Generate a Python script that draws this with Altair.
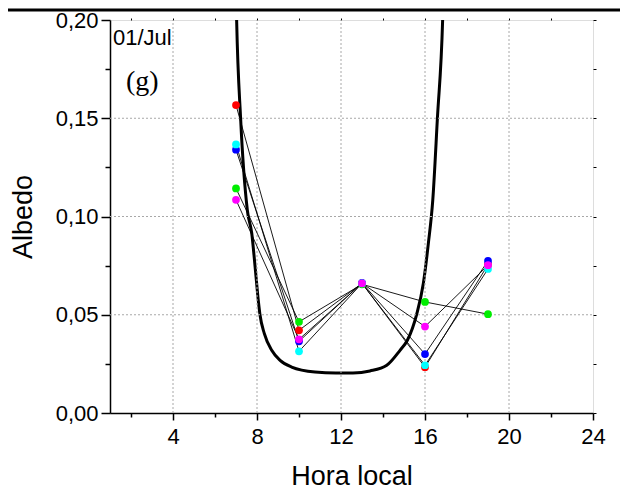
import altair as alt
import pandas as pd

# ---- data ----
hours = [7, 10, 13, 16, 19]
series_names = ["vermelho", "verde", "azul", "ciano", "magenta"]
series_colors = ["#ff0000", "#00ee00", "#0000ff", "#00ffff", "#ff00ff"]
red = [0.1567, 0.0421, 0.0660, 0.0233, 0.0755]
green = [0.1143, 0.0464, 0.0655, 0.0565, 0.0503]
blue = [0.1340, 0.0365, 0.0662, 0.0300, 0.0774]
cyan = [0.1367, 0.0314, 0.0660, 0.0243, 0.0733]
magenta = [0.1085, 0.0375, 0.0660, 0.0440, 0.0752]

curve_x = [7.00, 7.03, 7.22, 7.54, 7.75, 7.91, 8.06, 8.14, 8.35, 8.70, 9.10, 9.65,
           10.76, 11.76, 12.57, 13.38, 14.18, 14.81, 15.16, 15.60, 15.92, 16.16,
           16.37, 16.59, 16.84, 16.88]
curve_y = [0.2150, 0.2000, 0.1499, 0.1032, 0.0915, 0.0744, 0.0574, 0.0501, 0.0404,
           0.0319, 0.0268, 0.0234, 0.0209, 0.0204, 0.0204, 0.0214, 0.0243, 0.0319,
           0.0370, 0.0501, 0.0659, 0.0863, 0.1083, 0.1499, 0.2000, 0.2150]

x_major = [4, 8, 12, 16, 20, 24]
x_minor = [2, 6, 10, 14, 18, 22]
x_grid = [4, 8, 12, 16, 20]
y_major = [0.0, 0.05, 0.10, 0.15, 0.20]
y_minor = [0.025, 0.075, 0.125, 0.175]
y_grid = [0.05, 0.10, 0.15]
y_all = [0.0, 0.025, 0.05, 0.075, 0.10, 0.125, 0.15, 0.175, 0.20]
x_top = [2, 4, 6, 8, 10, 12, 14, 16, 18, 20, 22]

rows = []
for name, vals in zip(series_names, [red, green, blue, cyan, magenta]):
    for i, (h, v) in enumerate(zip(hours, vals)):
        rows.append({"serie": name, "hora": h, "albedo": v, "ord": i,
                     "serie_ord": series_names.index(name)})
pts = pd.DataFrame(rows)
curve = pd.DataFrame({"hora": curve_x, "albedo": curve_y, "ord": range(len(curve_x))})
one = pd.DataFrame({"k": [0]})

FONT = "Liberation Sans"
XDOM = [1, 24]
YDOM = [0, 0.2]
W, H = 483, 393
GRID = "#a8a8a8"

xs = alt.Scale(domain=XDOM, nice=False, zero=False)
ys = alt.Scale(domain=YDOM, nice=False, zero=False)

x_axis = alt.Axis(values=x_major, tickSize=7, tickWidth=1.5, tickColor="black",
                  domainColor="black", domainWidth=1.5, grid=False,
                  labelFont=FONT, labelFontSize=22, labelColor="black", labelPadding=6,
                  title="Hora local", titleFont=FONT, titleFontSize=27,
                  titleFontWeight="normal", titleColor="black", titlePadding=16,
                  labelFlush=False)
y_axis = alt.Axis(values=y_major, tickSize=9, tickWidth=1.5, tickColor="black",
                  domainColor="black", domainWidth=1.5, grid=False,
                  labelExpr="replace(format(datum.value, '.2f'), '.', ',')",
                  labelFont=FONT, labelFontSize=22, labelColor="black", labelPadding=3,
                  title="Albedo", titleFont=FONT, titleFontSize=27,
                  titleFontWeight="normal", titleColor="black", titlePadding=18,
                  labelFlush=False)

base_x = alt.X("hora:Q", scale=xs, axis=x_axis)
base_y = alt.Y("albedo:Q", scale=ys, axis=y_axis)

# grid drawn as rules spanning the plot via explicit y / y2 (and x / x2)
xgrid_df = pd.DataFrame({"hora": x_grid, "lo": [YDOM[0]] * len(x_grid),
                         "hi": [YDOM[1]] * len(x_grid)})
ygrid_df = pd.DataFrame({"albedo": y_grid, "lo": [XDOM[0]] * len(y_grid),
                         "hi": [XDOM[1]] * len(y_grid)})
xgrid = alt.Chart(xgrid_df).mark_rule(
    color=GRID, strokeWidth=1, strokeDash=[2, 2]).encode(
    x=alt.X("hora:Q", scale=xs), y=alt.Y("lo:Q", scale=ys), y2="hi:Q")
ygrid = alt.Chart(ygrid_df).mark_rule(
    color=GRID, strokeWidth=1, strokeDash=[2, 2]).encode(
    y=alt.Y("albedo:Q", scale=ys), x=alt.X("lo:Q", scale=xs), x2="hi:Q")

curve_layer = alt.Chart(curve).mark_line(color="black", strokeWidth=3, clip=True,
                                         interpolate="monotone").encode(
    x=base_x, y=base_y, order="ord:Q")

lines = alt.Chart(pts).mark_line(color="black", strokeWidth=0.9).encode(
    x=alt.X("hora:Q", scale=xs), y=alt.Y("albedo:Q", scale=ys),
    detail="serie:N", order="ord:Q")

points = alt.Chart(pts).mark_circle(size=60, opacity=1).encode(
    x=alt.X("hora:Q", scale=xs), y=alt.Y("albedo:Q", scale=ys),
    color=alt.Color("serie:N", scale=alt.Scale(domain=series_names, range=series_colors),
                    legend=None),
    order=alt.Order("serie_ord:Q"))

txt_date = alt.Chart(one).mark_text(text="01/Jul", font=FONT, fontSize=22, align="left",
                                    baseline="alphabetic", color="black").encode(
    x=alt.value(3), y=alt.value(25))
txt_g = alt.Chart(one).mark_text(text="(g)", font="Liberation Serif", fontSize=28,
                                 align="left", baseline="alphabetic", color="black").encode(
    x=alt.value(16), y=alt.value(70))
top_rule = alt.Chart(one).mark_rule(color="black", strokeWidth=3).encode(
    x=alt.value(-102), x2=alt.value(W + 30), y=alt.value(-10))

main = alt.layer(curve_layer, xgrid, ygrid, lines, points, txt_date, txt_g, top_rule)

minor = alt.Chart(pts).mark_point(opacity=0).encode(
    x=alt.X("hora:Q", scale=xs,
            axis=alt.Axis(orient="bottom", values=x_minor, tickSize=4, tickWidth=1.5,
                          tickColor="black", labels=False, domain=False, grid=False,
                          title=None)),
    y=alt.Y("albedo:Q", scale=ys,
            axis=alt.Axis(orient="left", values=y_minor, tickSize=5, tickWidth=1.5,
                          tickColor="black", labels=False, domain=False, grid=False,
                          title=None)))

right = alt.Chart(pts).mark_point(opacity=0).encode(
    x=alt.X("hora:Q", scale=xs,
            axis=alt.Axis(orient="top", values=x_top,
                          tickSize=2, tickWidth=1, tickColor="black", labels=False,
                          domain=False, grid=False, title=None)),
    y=alt.Y("albedo:Q", scale=ys,
            axis=alt.Axis(orient="right", values=y_all, tickSize=3, tickWidth=1,
                          tickColor="black", labels=False, domain=False, grid=False,
                          title=None)))

chart = alt.layer(main, minor, right).resolve_scale(
    x="independent", y="independent").properties(
    width=W, height=H,
    autosize=alt.AutoSizeParams(type="none"),
    padding={"left": 102, "top": 12, "right": 27, "bottom": 80},
).configure_view(stroke="black", strokeWidth=1.5).configure(background="white")

chart.save("out.html", embed_options={"renderer": "svg", "actions": False})
